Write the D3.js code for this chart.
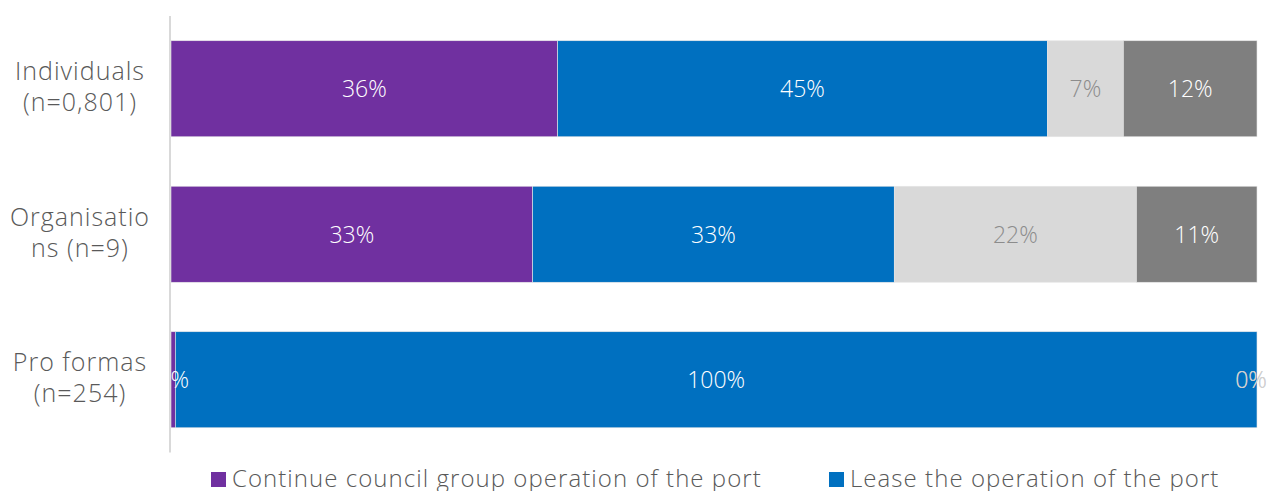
<!DOCTYPE html>
<html>
<head>
<meta charset="utf-8">
<script src="https://cdn.jsdelivr.net/npm/d3@7"></script>
<style>
  html, body { margin: 0; padding: 0; background: #fff; }
  svg { display: block; font-family: "Open Sans", "Lato", sans-serif; font-weight: 300; }
</style>
</head>
<body>
<svg id="chart" width="1270" height="491"></svg>
<script>
// ---- data ----
const categories = ["Individuals (n=0,801)", "Organisations (n=9)", "Pro formas (n=254)"];
const categoryLines = [["Individuals", "(n=0,801)"], ["Organisatio", "ns (n=9)"], ["Pro formas", "(n=254)"]];
const seriesNames = ["Continue council group operation of the port", "Lease the operation of the port", "Don't know", "No preference"];
const continueCouncil = [35.6, 33.3, 0.4];
const leaseOperation = [45.1, 33.3, 99.6];
const dontKnow = [7.0, 22.3, 0];
const noPreference = [12.3, 11.1, 0];
const labelContinue = ["36%", "33%", "0%"];
const labelLease = ["45%", "33%", "100%"];
const labelDontKnow = ["7%", "22%", "0%"];
const labelNoPref = ["12%", "11%", "0%"];
const legendShown = [0, 1];

const colors = ["#7030A0", "#0070C0", "#D9D9D9", "#7F7F7F"];
const labelColors = ["#ffffff", "#ffffff", "#8c8c8c", "#ffffff"];

const svg = d3.select("#chart");
const W = 1270;
const x = d3.scaleLinear().domain([0, 100]).range([171, 1257]);
const y = d3.scaleBand().domain(categories).range([16, 452.5]).paddingInner(0.34).paddingOuter(0.17);

const seriesVals = [continueCouncil, leaseOperation, dontKnow, noPreference];
const seriesLabels = [labelContinue, labelLease, labelDontKnow, labelNoPref];

const rows = categories.map((c, i) => {
  let acc = 0;
  return seriesVals.map((vals, s) => {
    const seg = { cat: c, s, x0: acc, x1: acc + vals[i], label: seriesLabels[s][i] };
    acc += vals[i];
    return seg;
  });
});
const segs = rows.flat();

svg.append("defs").append("clipPath").attr("id", "plotclip")
  .append("rect").attr("x", x(0)).attr("y", 0).attr("width", W - x(0)).attr("height", 491);

// axis line
svg.append("line")
  .attr("x1", 170).attr("x2", 170).attr("y1", 16).attr("y2", 452.5)
  .attr("stroke", "#d9d9d9").attr("stroke-width", 2);

// bars
svg.append("g").selectAll("rect").data(segs.filter(d => d.x1 > d.x0)).join("rect")
  .attr("x", d => x(d.x0))
  .attr("y", d => y(d.cat))
  .attr("width", d => x(d.x1) - x(d.x0))
  .attr("height", y.bandwidth())
  .attr("fill", d => colors[d.s])
  .attr("stroke", "#e6e6e6").attr("stroke-width", 0.6);

// data labels
svg.append("g").attr("clip-path", "url(#plotclip)").selectAll("text").data(segs).join("text")
  .attr("x", d => Math.min((x(d.x0) + x(d.x1)) / 2, W - 19))
  .attr("y", d => y(d.cat) + y.bandwidth() / 2)
  .attr("dy", "0.36em")
  .attr("text-anchor", "middle")
  .attr("font-size", 23)
  .attr("fill", d => (d.x1 - d.x0 === 0 ? "#d0d0d0" : labelColors[d.s]))
  .text(d => d.label);

// category labels
const catG = svg.append("g");
categories.forEach((c, i) => {
  const cy = y(c) + y.bandwidth() / 2;
  const lines = categoryLines[i];
  const lh = 31;
  lines.forEach((ln, j) => {
    catG.append("text")
      .attr("x", 80)
      .attr("y", cy + (j - (lines.length - 1) / 2) * lh - 2)
      .attr("dy", "0.36em")
      .attr("text-anchor", "middle")
      .attr("font-size", 25)
      .attr("letter-spacing", 1)
      .attr("fill", "#595959")
      .text(ln);
  });
});

// legend
const legX = [211, 829];
const leg = svg.append("g");
legendShown.forEach((s, k) => {
  leg.append("rect").attr("x", legX[k]).attr("y", 472).attr("width", 15).attr("height", 15).attr("fill", colors[s]);
  leg.append("text").attr("x", legX[k] + 21).attr("y", 486.5)
    .attr("font-size", 24).attr("letter-spacing", 1.05).attr("fill", "#595959").text(seriesNames[s]);
});
</script>
</body>
</html>
